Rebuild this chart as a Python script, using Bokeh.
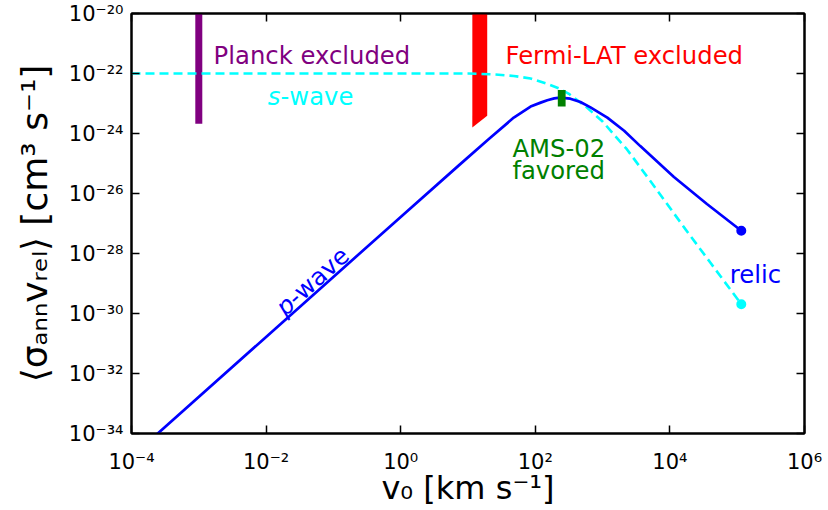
import math
from bokeh.plotting import figure
from bokeh.models import Range1d, LogAxis, FixedTicker
from bokeh.core.properties import value
from bokeh.embed import file_html
from bokeh.resources import INLINE

# ---------------- data ----------------
x_ticks = [1e-4, 1e-2, 1e0, 1e2, 1e4, 1e6]
x_tick_labels = ["10⁻⁴", "10⁻²", "10⁰", "10²", "10⁴", "10⁶"]
y_ticks = [1e-34, 1e-32, 1e-30, 1e-28, 1e-26, 1e-24, 1e-22, 1e-20]
y_tick_labels = ["10⁻³⁴", "10⁻³²", "10⁻³⁰", "10⁻²⁸", "10⁻²⁶", "10⁻²⁴", "10⁻²²", "10⁻²⁰"]
x_title = "v₀ [km s⁻¹]"
y_title = "⟨σₐₙₙvᵣₑₗ⟩ [cm³ s⁻¹]"

# p-wave curve: v0 [km/s], <sigma v> [cm^3/s]
pwave_v = [1e-4, 1e-2, 1.0, 7.24, 20.0, 47.9, 85.1, 120, 151, 191, 234, 331,
           468, 661, 1175, 2089, 3631, 11482, 35481, 115000]
pwave_sigma = [1.66e-35, 1.66e-31, 1.66e-27, 8.5e-26, 6.3e-25, 3.39e-24, 7.94e-24,
               1.07e-23, 1.29e-23, 1.48e-23, 1.58e-23, 1.45e-23, 1.12e-23, 7.41e-24,
               3.39e-24, 1.23e-24, 3.80e-25, 3.55e-26, 4.47e-27, 5.75e-28]

# s-wave curve
swave_v = [1e-4, 10.0, 25.1, 47.9, 85.1, 151, 224, 316, 562, 1000, 2291, 5129,
           16982, 39810, 115000]
swave_sigma = [1.0e-22, 1.0e-22, 9.3e-23, 8.3e-23, 6.8e-23, 4.5e-23, 3.2e-23,
               2.1e-23, 7.9e-24, 2.5e-24, 3.0e-25, 2.6e-26, 6.5e-28, 5.0e-29, 2.04e-30]

# relic end points
relic_v = [115000, 115000]
relic_sigma = [5.75e-28, 2.04e-30]
relic_colors = ["blue", "cyan"]

# Planck excluded band (thin vertical bar)
planck_v = [1e-3]
planck_sigma_low = [2.1e-24]
planck_sigma_high = [1e-20]

# Fermi-LAT excluded region
fermi_v = [11.6, 19.3, 19.3, 11.6]
fermi_sigma = [1e-20, 1e-20, 3.9e-24, 1.58e-24]

# AMS-02 favored box
ams_v_low = [216]
ams_v_high = [282]
ams_sigma_low = [7.9e-24]
ams_sigma_high = [2.8e-23]

# annotation anchors (baseline-left)
planck_label = (1.66e-3, 3.9e-22)
fermi_label = (36.1, 3.9e-22)
swave_label = (1.06e-2, 1.66e-23)
pwave_label = (1.58e-2, 1.23e-30)
ams_label_1 = (45.7, 3.24e-25)
ams_label_2 = (45.7, 6.0e-26)
relic_label = (77600, 2.04e-29)

FONT = value("DejaVu Sans")
FS = "24.3px"

p = figure(width=828, height=510, x_axis_type="log", y_axis_type="log",
           x_range=Range1d(1e-4, 1e6), y_range=Range1d(1e-34, 1e-20),
           output_backend="svg", toolbar_location=None,
           min_border_left=131, min_border_right=24, min_border_top=13,
           min_border_bottom=77)
p.background_fill_color = "white"
p.border_fill_color = "white"
p.outline_line_color = "black"
p.outline_line_width = 2
p.xgrid.visible = False
p.ygrid.visible = False

bottom_axis = p.xaxis[0]
left_axis = p.yaxis[0]

bottom_axis.ticker = FixedTicker(ticks=x_ticks, minor_ticks=[])
left_axis.ticker = FixedTicker(ticks=y_ticks, minor_ticks=[])
bottom_axis.major_label_overrides = dict(zip(x_ticks, x_tick_labels))
left_axis.major_label_overrides = dict(zip(y_ticks, y_tick_labels))

top_axis = LogAxis(ticker=FixedTicker(ticks=x_ticks, minor_ticks=[]),
                   major_label_text_font_size="1px", major_label_text_alpha=0,
                   major_label_standoff=0)
right_axis = LogAxis(ticker=FixedTicker(ticks=y_ticks, minor_ticks=[]),
                     major_label_text_font_size="1px", major_label_text_alpha=0,
                     major_label_standoff=0)
p.add_layout(top_axis, "above")
p.add_layout(right_axis, "right")

for ax in [bottom_axis, left_axis, top_axis, right_axis]:
    ax.axis_line_color = "black"
    ax.axis_line_width = 2
    ax.major_tick_in = 8
    ax.major_tick_out = 0
    ax.major_tick_line_width = 1.5
    ax.major_tick_line_color = "black"
    ax.minor_tick_in = 0
    ax.minor_tick_out = 0
    ax.minor_tick_line_color = None

for ax in [bottom_axis, left_axis]:
    ax.major_label_text_font = "DejaVu Sans"
    ax.major_label_text_font_size = "21px"
    ax.major_label_text_color = "black"
    ax.axis_label_text_font = "DejaVu Sans"
    ax.axis_label_text_font_style = "normal"
    ax.axis_label_text_color = "black"

bottom_axis.major_label_standoff = 16
bottom_axis.axis_label = x_title
bottom_axis.axis_label_text_font_size = "32px"
bottom_axis.axis_label_standoff = -8
left_axis.major_label_standoff = 8
left_axis.axis_label = y_title
left_axis.axis_label_text_font_size = "36px"
left_axis.axis_label_standoff = 11

# excluded / favored regions
p.segment(x0=planck_v, y0=planck_sigma_low, x1=planck_v, y1=planck_sigma_high,
          line_color="purple", line_width=7, line_cap="butt")
p.patch(fermi_v, fermi_sigma, fill_color="red", line_color=None)

# curves
p.line(swave_v, swave_sigma, line_color="cyan", line_width=2.6, line_dash="9 5")
p.line(pwave_v, pwave_sigma, line_color="blue", line_width=2.7)
p.quad(left=ams_v_low, right=ams_v_high, bottom=ams_sigma_low, top=ams_sigma_high,
       fill_color="green", line_color=None)
p.scatter(relic_v, relic_sigma, size=10, color=relic_colors, line_color=None)


def label(pos, txt, color, style="normal", angle=0.0, xoff=0.0, yoff=0.0):
    p.text(x=[pos[0]], y=[pos[1]], text=[txt], text_color=color,
           text_font=FONT, text_font_size=FS, text_font_style=style,
           text_align="left", text_baseline="alphabetic", angle=angle,
           x_offset=xoff, y_offset=yoff)


label(planck_label, "Planck excluded", "purple")
label(fermi_label, "Fermi-LAT excluded", "red")
label(swave_label, "s", "cyan", style="italic")
label(swave_label, "-wave", "cyan", xoff=12.7)
ang = math.radians(42)
label(pwave_label, "p", "blue", style="italic", angle=ang)
w = 15.4
label(pwave_label, "-wave", "blue", angle=ang, xoff=w * math.cos(ang), yoff=-w * math.sin(ang))
label(ams_label_1, "AMS-02", "green")
label(ams_label_2, "favored", "green")
label(relic_label, "relic", "blue")

open("out.html", "w").write(file_html(p, INLINE))
